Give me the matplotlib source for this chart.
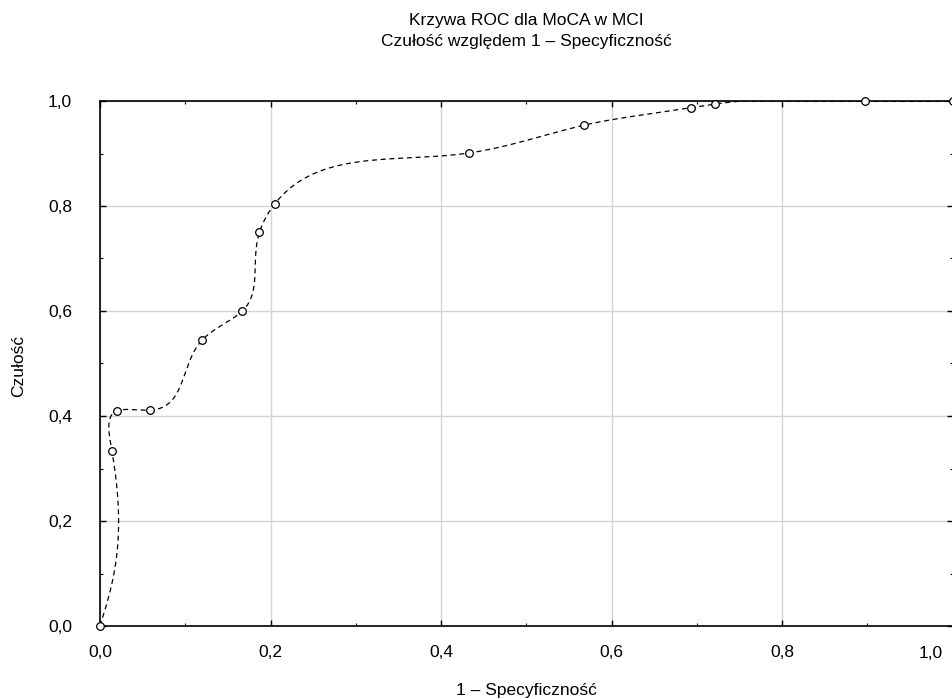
import numpy as np
import matplotlib
matplotlib.use("Agg")
import matplotlib.pyplot as plt
from matplotlib.ticker import MultipleLocator, FuncFormatter

plt.rcParams['font.family'] = ['Liberation Sans', 'DejaVu Sans']

fpr = [0.0, 0.014, 0.020, 0.0585, 0.120, 0.167, 0.187, 0.205, 0.433, 0.568, 0.693, 0.721, 0.897, 1.0]
tpr = [0.0, 0.333, 0.410, 0.411, 0.545, 0.600, 0.750, 0.804, 0.901, 0.954, 0.987, 0.994, 1.0, 1.0]

title = "Krzywa ROC dla MoCA w MCI\nCzułość względem 1 – Specyficzność"
xlabel = "1 – Specyficzność"
ylabel = "Czułość"
FS = 12.5


def natural_spline(t, y, tt):
    n = len(t)
    h = np.diff(t)
    A = np.zeros((n, n))
    r = np.zeros(n)
    A[0, 0] = 1
    A[-1, -1] = 1
    for i in range(1, n - 1):
        A[i, i - 1] = h[i - 1]
        A[i, i] = 2 * (h[i - 1] + h[i])
        A[i, i + 1] = h[i]
        r[i] = 3 * ((y[i + 1] - y[i]) / h[i] - (y[i] - y[i - 1]) / h[i - 1])
    c = np.linalg.solve(A, r)
    b = np.zeros(n - 1)
    d = np.zeros(n - 1)
    for i in range(n - 1):
        b[i] = (y[i + 1] - y[i]) / h[i] - h[i] * (2 * c[i] + c[i + 1]) / 3
        d[i] = (c[i + 1] - c[i]) / (3 * h[i])
    idx = np.clip(np.searchsorted(t, tt) - 1, 0, n - 2)
    dt = tt - t[idx]
    return y[idx] + b[idx] * dt + c[idx] * dt ** 2 + d[idx] * dt ** 3


x = np.array(fpr)
y = np.array(tpr)
seg = np.sqrt((np.diff(x) * 1.35) ** 2 + np.diff(y) ** 2) ** 1.12
t = np.concatenate([[0], np.cumsum(seg)])
tt = np.linspace(0, t[-1], 3000)
xs = natural_spline(t, x, tt)
ys = natural_spline(t, y, tt)
ys = np.minimum(ys, 1.0)

W, H = 953, 699
fig = plt.figure(figsize=(W / 100, H / 100), dpi=100)
l, r, b, tp = 100 / W, 952.5 / W, (H - 626) / H, (H - 101) / H
ax = fig.add_axes([l, b, r - l, tp - b])

ax.plot(xs, ys, color='black', linestyle=(0, (4, 3)), linewidth=0.9, zorder=3)
ax.plot(x, y, linestyle='none', marker='o', markersize=5.5, markerfacecolor='white',
        markeredgecolor='black', markeredgewidth=0.9, zorder=4, clip_on=False)

ax.set_xlim(0, 1.0)
ax.set_ylim(0, 1.0)
ax.xaxis.set_major_locator(MultipleLocator(0.2))
ax.yaxis.set_major_locator(MultipleLocator(0.2))
ax.xaxis.set_minor_locator(MultipleLocator(0.1))
ax.yaxis.set_minor_locator(MultipleLocator(0.1))
fmt = FuncFormatter(lambda v, p: f"{v:.1f}".replace('.', ',') if v < 0.99 else "")
ax.xaxis.set_major_formatter(fmt)
ax.yaxis.set_major_formatter(FuncFormatter(lambda v, p: f"{v:.1f}".replace('.', ',')))
ax.tick_params(which='both', direction='in', top=True, right=True, labelsize=FS, color='black')
ax.tick_params(which='major', length=4, width=1)
ax.tick_params(which='minor', length=2.5, width=0.8)
ax.tick_params(axis='x', pad=14)
ax.tick_params(axis='y', pad=20)
ax.grid(True, which='major', color='#d4d4d4', linewidth=1)
ax.set_axisbelow(True)
for s in ax.spines.values():
    s.set_linewidth(1.2)
    s.set_color('black')

fig.text(943 / W, 1 - 654 / H, "1,0", ha='right', va='center', fontsize=FS)

fig.text(526 / W, 1 - 691 / H, xlabel, ha='center', va='center', fontsize=FS)
fig.text(19 / W, 1 - 366 / H, ylabel, ha='center', va='center', rotation=90, fontsize=FS)
fig.text(526 / W, 1 - 31 / H, title, ha='center', va='center', fontsize=FS, linespacing=1.55)

fig.savefig("out.png", dpi=100)
